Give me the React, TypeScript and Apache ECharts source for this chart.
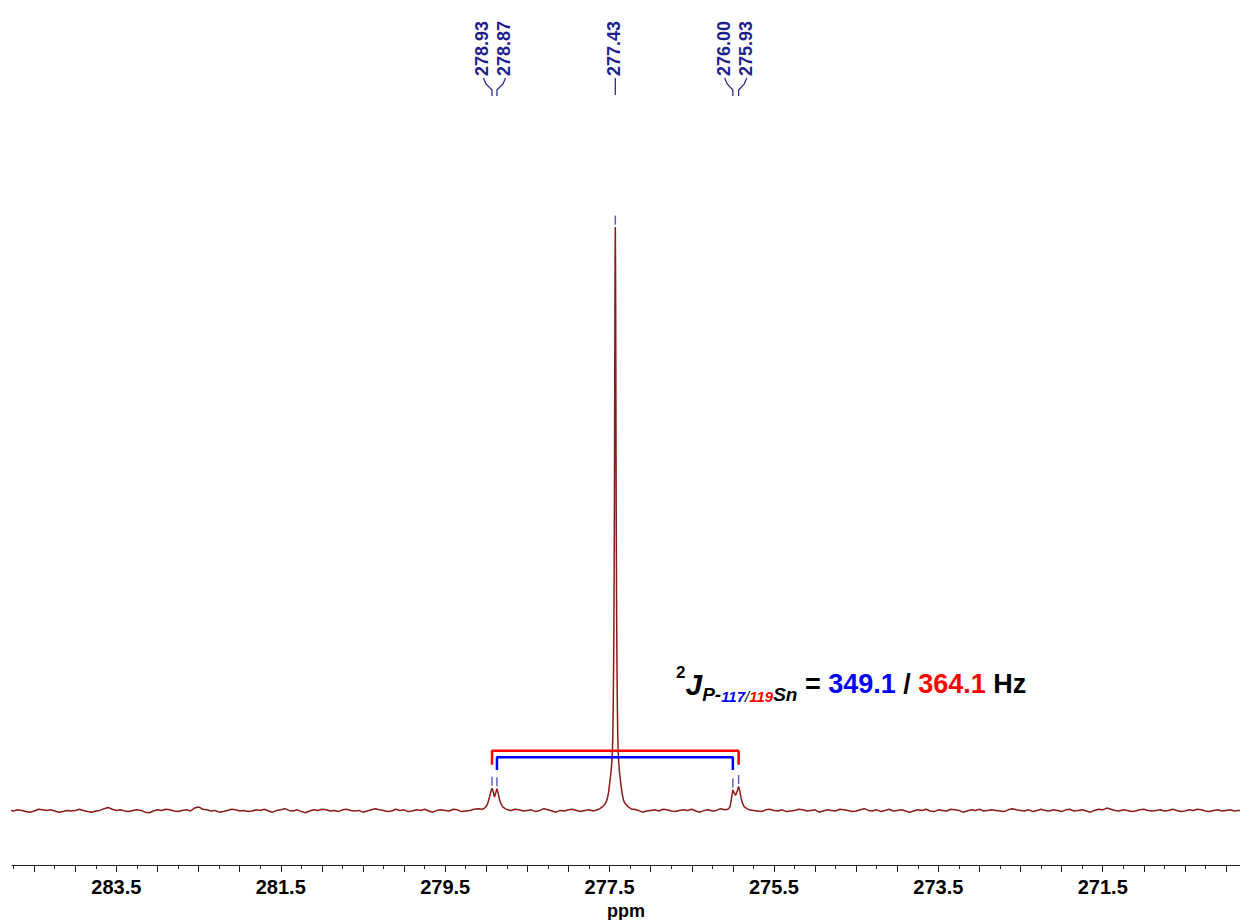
import React, { useEffect, useRef } from "react";
import * as echarts from "echarts";

// ---------- axis ----------
const X_MIN = 269.83;
const X_MAX = 284.77;
const Y_MIN = -9.25;
const Y_MAX = 138.9;

const labelTicks = [283.5, 281.5, 279.5, 277.5, 275.5, 273.5, 271.5];
const majorTicks = [
  270.0, 270.5, 271.0, 271.5, 272.0, 272.5, 273.0, 273.5, 274.0, 274.5,
  275.0, 275.5, 276.0, 276.5, 277.0, 277.5, 278.0, 278.5, 279.0, 279.5,
  280.0, 280.5, 281.0, 281.5, 282.0, 282.5, 283.0, 283.5, 284.0, 284.5,
];
const minorTicks = [
  270.25, 270.75, 271.25, 271.75, 272.25, 272.75, 273.25, 273.75, 274.25, 274.75,
  275.25, 275.75, 276.25, 276.75, 277.25, 277.75, 278.25, 278.75, 279.25, 279.75,
  280.25, 280.75, 281.25, 281.75, 282.25, 282.75, 283.25, 283.75, 284.25, 284.75,
];

// ---------- spectrum ----------
const BASE_START = 284.8;
const BASE_STEP = 0.05;
const baselineNoise = [
  0.1, 0.0, 0.2, 0.1, -0.1, -0.2, 0.0, 0.3, 0.2, 0.1, 0.2, 0.0, -0.2, -0.1, 0.1, 0.0, 0.1, 0.3, 0.1, -0.1,
  -0.2, 0.0, 0.1, 0.4, 0.6, 0.3, 0.1, 0.2, 0.0, -0.1, 0.1, 0.2, 0.1, -0.2, -0.3, 0.0, 0.2, 0.1, 0.3, 0.2,
  0.0, -0.1, 0.1, 0.2, 0.0, 0.5, 0.7, 0.3, 0.2, 0.0, 0.1, -0.2, -0.1, 0.1, 0.3, 0.2, 0.0, 0.1, -0.1, 0.0,
  0.2, 0.1, 0.3, 0.0, -0.2, 0.1, 0.2, 0.4, 0.1, 0.0, 0.2, -0.1, -0.3, 0.0, 0.2, 0.1, 0.3, 0.2, 0.0, 0.1,
  -0.1, 0.2, 0.3, 0.1, 0.0, 0.1, -0.2, 0.0, 0.2, 0.4, 0.2, 0.1, -0.1, 0.0, 0.3, 0.1, 0.2, -0.1, 0.0, 0.2,
  0.1, 0.3, 0.0, -0.2, 0.1, 0.2, 0.1, 0.0, 0.3, 0.2, -0.1, 0.0, 0.1, 0.3, 0.4, 0.1, -0.1, 0.0, 0.2, 0.1,
  0.0, -0.2, 0.1, 0.3, 0.2, 0.0, 0.1, 0.2, -0.1, 0.1, 0.4, 0.2, 0.0, -0.2, 0.1, 0.0, 0.2, 0.3, 0.1, -0.1,
  0.1, 0.2, 0.0, 0.1, 0.3, 0.5, 0.2, 0.0, -0.1, 0.1, 0.0, 0.2, 0.3, 0.1, -0.2, 0.0, 0.1, 0.2, 0.0, 0.3,
  0.2, 0.0, -0.1, 0.1, 0.2, 0.1, 0.3, 0.0, -0.2, 0.1, 0.2, 0.0, 0.1, 0.4, 0.2, 0.0, 0.1, -0.1, 0.2, 0.1,
  0.3, 0.1, 0.0, -0.1, 0.2, 0.3, 0.1, 0.0, 0.2, -0.1, 0.0, 0.1, 0.3, 0.2, 0.0, 0.1, 0.2, -0.2, 0.0, 0.2,
  0.1, 0.0, 0.3, 0.2, 0.1, -0.1, 0.0, 0.2, 0.4, 0.1, 0.0, 0.2, -0.1, 0.1, 0.3, 0.0, 0.1, 0.2, 0.0, -0.2,
  0.0, 0.2, 0.1, 0.3, 0.0, -0.1, 0.2, 0.1, 0.0, 0.3, 0.2, 0.1, -0.2, 0.0, 0.2, 0.1, 0.3, 0.0, 0.1, 0.2,
  0.1, 0.0, -0.1, 0.2, 0.4, 0.2, 0.1, 0.0, 0.2, -0.1, 0.1, 0.3, 0.1, 0.0, 0.2, 0.1, -0.1, 0.2, 0.3, 0.0,
  0.1, 0.2, 0.0, -0.2, 0.1, 0.3, 0.2, 0.5, 0.3, 0.1, 0.0, 0.2, 0.1, -0.1, 0.0, 0.2, 0.3, 0.1, 0.0, 0.1,
  0.2, 0.0, 0.1, 0.3, 0.1, -0.1, 0.0, 0.2, 0.1, 0.3, 0.2, 0.0, -0.1, 0.1, 0.2, 0.0, 0.1, 0.2, 0.0, 0.1,
  0.1,
];

const peakWindows = [
  [278.72, 279.07],
  [277.21, 277.65],
  [275.78, 276.08],
];

const satelliteLeft = [
  [279.05, 0.3], [279.02, 0.5], [279.0, 0.8], [278.98, 1.4], [278.96, 2.4],
  [278.945, 3.3], [278.93, 3.9], [278.915, 3.2], [278.9, 2.4], [278.885, 3.1],
  [278.87, 3.8], [278.855, 3.0], [278.84, 2.0], [278.82, 1.2], [278.8, 0.7],
  [278.77, 0.4], [278.74, 0.2],
];

const mainPeak = [
  [277.63, 0.3], [277.61, 0.5], [277.58, 0.8], [277.56, 1.1], [277.54, 1.6],
  [277.53, 2.0], [277.52, 2.6], [277.51, 3.4], [277.5, 4.6], [277.49, 5.7],
  [277.48, 7.0], [277.47, 8.8], [277.465, 10.5], [277.46, 13], [277.455, 18],
  [277.45, 26], [277.446, 35], [277.442, 48], [277.439, 62], [277.436, 79],
  [277.433, 94], [277.43, 100], [277.427, 93], [277.424, 78], [277.421, 61],
  [277.418, 47], [277.414, 34], [277.41, 25], [277.405, 17.5], [277.4, 12.6],
  [277.395, 10.2], [277.39, 8.6], [277.38, 6.8], [277.37, 5.5], [277.36, 4.4],
  [277.35, 3.3], [277.34, 2.5], [277.33, 1.9], [277.32, 1.5], [277.3, 1.1],
  [277.28, 0.8], [277.25, 0.5], [277.23, 0.3],
];

const satelliteRight = [
  [276.06, 0.3], [276.04, 0.6], [276.03, 1.0], [276.02, 1.8], [276.01, 2.8],
  [276.0, 3.6], [275.985, 3.1], [275.965, 2.7], [275.945, 3.5], [275.93, 4.2],
  [275.915, 3.4], [275.9, 2.2], [275.88, 1.2], [275.86, 0.7], [275.83, 0.4],
  [275.8, 0.2],
];

// ---------- peak picking ----------
const peakPpm = [278.93, 278.87, 277.43, 276.0, 275.93];
const peakHeights = [3.9, 3.8, 100, 3.6, 4.2];
const peakLabels = ["278.93", "278.87", "277.43", "276.00", "275.93"];
const labelGroups = [[0, 1], [2], [3, 4]];

// ---------- coupling brackets ----------
const redBracketPpm = [278.93, 275.93];
const redBracketLevels = [7.9, 10.3];
const blueBracketPpm = [278.87, 276.0];
const blueBracketLevels = [7.0, 9.2];

const FONT = '"Liberation Sans", Arial, sans-serif';
const NAVY = "#1e1e8e";

function buildSpectrum(): number[][] {
  const pts: number[][] = [];
  baselineNoise.forEach((v, i) => {
    const x = +(BASE_START - i * BASE_STEP).toFixed(3);
    const inside = peakWindows.some(([a, b]) => x >= a && x <= b);
    if (!inside) pts.push([x, v]);
  });
  [...satelliteLeft, ...mainPeak, ...satelliteRight].forEach((p) => pts.push(p));
  pts.sort((a, b) => b[0] - a[0]);
  return pts;
}

function bracket(ppm: number[], lv: number[]): number[][] {
  return [
    [ppm[0], lv[0]],
    [ppm[0], lv[1]],
    [ppm[1], lv[1]],
    [ppm[1], lv[0]],
  ];
}

export default function App() {
  const ref = useRef<HTMLDivElement>(null);

  useEffect(() => {
    document.body.style.margin = "0";
    const chart = echarts.init(ref.current!, null, { renderer: "svg" });
    const axisCommon = {
      type: "value",
      min: X_MIN,
      max: X_MAX,
      inverse: true,
      position: "bottom",
      splitLine: { show: false },
    };
    chart.setOption({
      animation: false,
      backgroundColor: "#ffffff",
      grid: {
        left: 12,
        right: 0,
        top: 0,
        bottom: 55,
        containLabel: false,
        outerBoundsMode: "none",
      },
      xAxis: [
        {
          ...axisCommon,
          name: "ppm",
          nameLocation: "middle",
          nameGap: 35,
          nameTextStyle: { fontFamily: FONT, fontWeight: "bold", fontSize: 18, color: "#000" },
          axisLine: { show: true, onZero: false, lineStyle: { color: "#222", width: 1 } },
          axisTick: { show: true, length: 7, customValues: majorTicks, lineStyle: { color: "#222", width: 1 } },
          axisLabel: {
            show: true,
            customValues: labelTicks,
            margin: 12,
            fontFamily: FONT,
            fontWeight: "bold",
            fontSize: 20,
            color: "#000",
            formatter: (v: number) => v.toFixed(1),
          },
        },
        {
          ...axisCommon,
          axisLine: { show: false, onZero: false },
          axisTick: { show: true, length: 4, customValues: minorTicks, lineStyle: { color: "#222", width: 1 } },
          axisLabel: { show: false },
        },
      ],
      yAxis: { type: "value", min: Y_MIN, max: Y_MAX, show: false, splitLine: { show: false } },
      series: [
        {
          type: "line",
          data: buildSpectrum(),
          symbol: "none",
          lineStyle: { color: "#8b1a1a", width: 1.5 },
          z: 2,
        },
        {
          type: "line",
          data: bracket(redBracketPpm, redBracketLevels),
          symbol: "none",
          lineStyle: { color: "#ff0000", width: 2.5 },
          z: 3,
        },
        {
          type: "line",
          data: bracket(blueBracketPpm, blueBracketLevels),
          symbol: "none",
          lineStyle: { color: "#0000ff", width: 2.5 },
          z: 3,
        },
        {
          type: "scatter",
          data: peakPpm.map((p, i) => [p, peakHeights[i]]),
          symbol: "rect",
          symbolSize: [1.5, 9],
          symbolOffset: [0, -7],
          itemStyle: { color: "#3a3aaa" },
          clip: false,
          z: 4,
        },
      ],
    });

    const px = (v: number) => chart.convertToPixel({ xAxisIndex: 0 }, v) as unknown as number;
    const graphics: any[] = [];
    const LABEL_BOTTOM = 76;
    labelGroups.forEach((grp) => {
      const peaks = grp.map((i) => px(peakPpm[i]));
      const mean = peaks.reduce((a, b) => a + b, 0) / peaks.length;
      const spread = 22;
      grp.forEach((idx, k) => {
        const xp = peaks[k];
        const xl = grp.length === 1 ? xp : mean + (k - (grp.length - 1) / 2) * spread;
        graphics.push({
          type: "text",
          x: xl - 1,
          y: LABEL_BOTTOM,
          rotation: Math.PI / 2,
          style: {
            text: peakLabels[idx],
            fill: NAVY,
            fontFamily: FONT,
            fontWeight: "bold",
            fontSize: 18,
            align: "left",
            verticalAlign: "middle",
          },
        });
        const s = Math.sign(xp - xl);
        const pts =
          grp.length === 1
            ? [[xp, 78], [xp, 95]]
            : [[xl, 78], [xl + s * 2.5, 84], [xp, 90], [xp, 96]];
        graphics.push({
          type: "polyline",
          shape: { points: pts },
          style: { stroke: NAVY, lineWidth: 1.2, fill: null },
        });
      });
    });

    graphics.push({
      type: "text",
      x: 676,
      y: 684,
      style: {
        text: "{sup|2}{J|J}{sub|P-}{b|117}{sl|/}{r|119}{sub|Sn}{eq| = }{bn|349.1}{eq| / }{rn|364.1}{eq| Hz}",
        align: "left",
        verticalAlign: "middle",
        rich: {
          sup: { fontFamily: FONT, fontWeight: "bold", fontSize: 17, fill: "#000", lineHeight: 18, verticalAlign: "top" },
          J: { fontFamily: FONT, fontWeight: "bold", fontStyle: "italic", fontSize: 30, fill: "#000", lineHeight: 40, verticalAlign: "middle" },
          sub: { fontFamily: FONT, fontWeight: "bold", fontStyle: "italic", fontSize: 19, fill: "#000", lineHeight: 31, verticalAlign: "bottom" },
          b: { fontFamily: FONT, fontWeight: "bold", fontStyle: "italic", fontSize: 15, fill: "#0000ff", lineHeight: 34, verticalAlign: "bottom" },
          sl: { fontFamily: FONT, fontStyle: "italic", fontSize: 15, fill: "#000", lineHeight: 34, verticalAlign: "bottom" },
          r: { fontFamily: FONT, fontWeight: "bold", fontStyle: "italic", fontSize: 15, fill: "#ff0000", lineHeight: 34, verticalAlign: "bottom" },
          eq: { fontFamily: FONT, fontWeight: "bold", fontSize: 27, fill: "#000", lineHeight: 40, verticalAlign: "middle" },
          bn: { fontFamily: FONT, fontWeight: "bold", fontSize: 27, fill: "#0000ff", lineHeight: 40, verticalAlign: "middle" },
          rn: { fontFamily: FONT, fontWeight: "bold", fontSize: 27, fill: "#ff0000", lineHeight: 40, verticalAlign: "middle" },
        },
      },
    });

    chart.setOption({ graphic: graphics });
    return () => chart.dispose();
  }, []);

  return (
    <div
      ref={ref}
      style={{ position: "absolute", left: 0, top: 0, width: 1240, height: 920 }}
    />
  );
}
